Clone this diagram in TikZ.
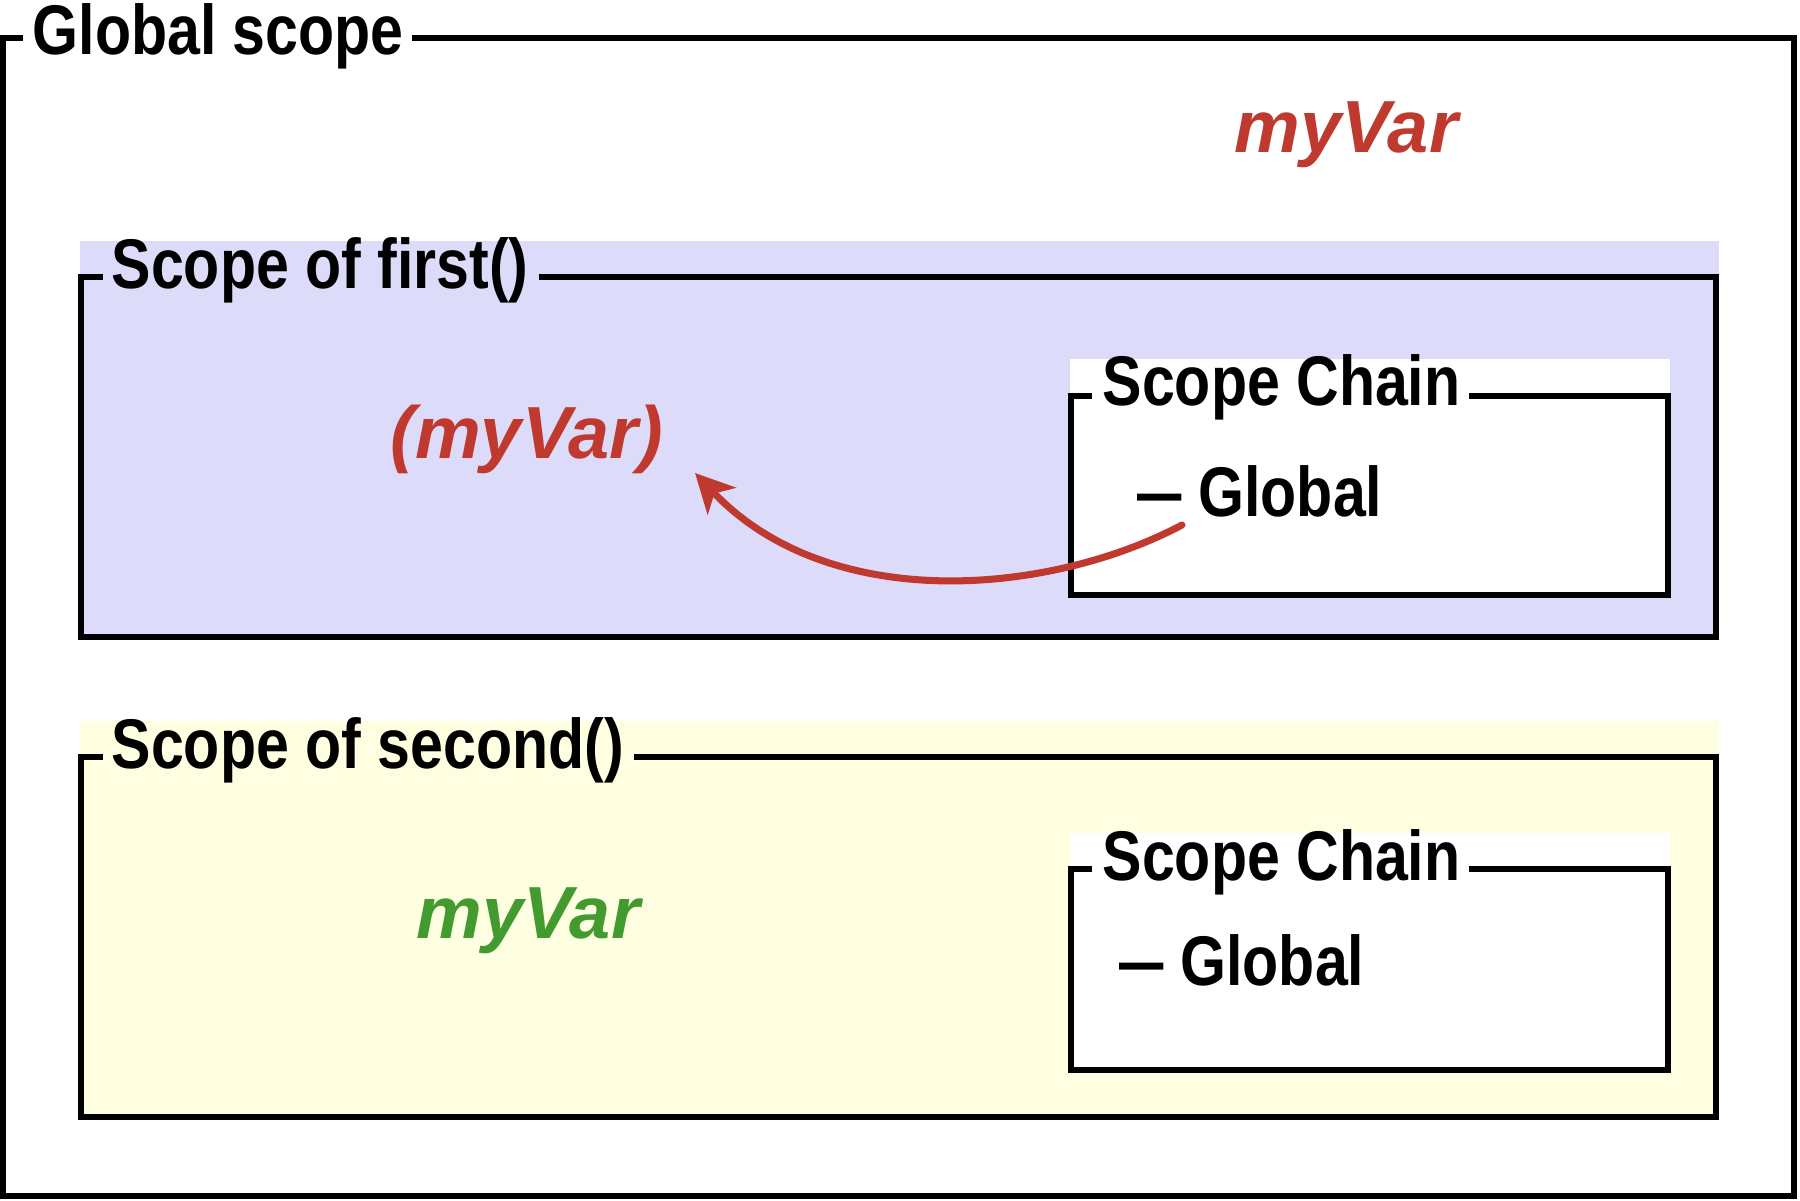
\documentclass[tikz,border=0pt]{standalone}
\usepackage{fontspec}
\usepackage{xcolor}
\usetikzlibrary{arrows.meta,calc,positioning}

\newfontfamily\labelfont{Liberation Sans}[FakeStretch=0.84]
\newfontfamily\varfont{Liberation Sans}
\newcommand{\chaindash}{\scalebox{0.75}[1]{—}}

\definecolor{varred}{HTML}{C0392F}
\definecolor{vargreen}{HTML}{439A2E}
\definecolor{firstfill}{HTML}{DCDCFA}
\definecolor{secondfill}{HTML}{FEFEE0}

\tikzset{
	scopetitle/.style={font=\labelfont\bfseries\fontsize{20}{24}\selectfont, inner sep=0pt, anchor=base west},
	varname/.style={font=\varfont\bfseries\itshape\fontsize{21}{25}\selectfont, inner sep=0pt, anchor=base west},
	scopeframe/.style={line width=1.5pt, line join=miter},
}

\begin{document}
\begin{tikzpicture}[x=0.01cm,y=-0.01cm]
		\useasboundingbox (0,0) rectangle (1800,1201);
		
		% global scope
		\node[scopetitle] (global) at (32,55) {Global scope};
		\draw[scopeframe] ([xshift=0.08cm]global.east |- 0,38) -- (1794,38) -- (1794,1196) -- (3,1196) -- (3,38) -- (23,38);
		\node[varname, text=varred] (globalvar) at (1234,153) {myVar};
		
		% scope of first()
		\fill[firstfill] (80,241) rectangle (1719,637);
		\node[scopetitle] (first) at (111,289) {Scope of first()};
		\draw[scopeframe] ([xshift=0.1cm]first.east |- 0,277) -- (1716,277) -- (1716,637) -- (81,637) -- (81,277) -- (103,277);
		\node[varname, text=varred] (firstvar) at (390,459) {(myVar)};
		
		\fill[white] (1070,359) rectangle (1670,595);
		\node[scopetitle] (chainone) at (1102,406) {Scope Chain};
		\draw[scopeframe] ([xshift=0.08cm]chainone.east |- 0,396) -- (1668,396) -- (1668,595) -- (1071,595) -- (1071,396) -- (1092,396);
		\node[scopetitle] (globalone) at (1137,517) {\chaindash\ Global};
		
		% scope of second()
		\fill[secondfill] (80,721) rectangle (1719,1117);
		\node[scopetitle] (second) at (111,769) {Scope of second()};
		\draw[scopeframe] ([xshift=0.1cm]second.east |- 0,757) -- (1716,757) -- (1716,1117) -- (81,1117) -- (81,757) -- (103,757);
		\node[varname, text=vargreen] (secondvar) at (416,939) {myVar};
		
		\fill[white] (1070,833) rectangle (1670,1070);
		\node[scopetitle] (chaintwo) at (1102,880) {Scope Chain};
		\draw[scopeframe] ([xshift=0.08cm]chaintwo.east |- 0,869) -- (1668,869) -- (1668,1070) -- (1071,1070) -- (1071,869) -- (1092,869);
		\node[scopetitle] (globaltwo) at (1119,985) {\chaindash\ Global};
		
		% lookup
		\coordinate (lookup) at (695,473);
		\draw[varred, line width=2pt, line cap=round, -{Stealth[length=11pt,width=11pt,inset=3pt]}] ($(globalone.base west)+(45,8)$) .. controls (1050,595) and (830,615) .. (lookup);
\end{tikzpicture}
\end{document}
